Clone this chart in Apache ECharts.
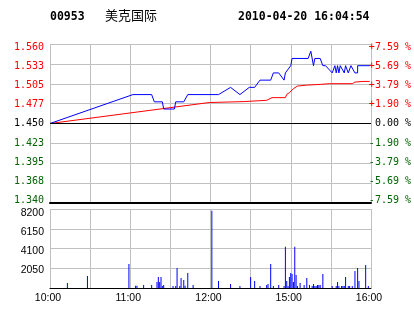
<!DOCTYPE html>
<html><head><meta charset="utf-8">
<script src="https://cdn.jsdelivr.net/npm/echarts@6/dist/echarts.min.js"></script>
<style>html,body{margin:0;padding:0;background:#fff}#c{width:414px;height:314px}</style>
</head><body><div id="c"></div>
<script>
// ---- data ----
const stockCode = '00953';
const stockName = '美克国际';
const stamp = '2010-04-20 16:04:54';
const prevClose = 1.45;
const priceStep = 0.0275; // one grid row
const priceTicks = ['1.340','1.368','1.395','1.423','1.450','1.477','1.505','1.533','1.560'];
const pctTicks = ['-7.59 %','-5.69 %','-3.79 %','-1.90 %',' 0.00 %','+1.90 %','+3.79 %','+5.69 %','+7.59 %'];
const volTicks = ['', '2050', '4100', '6150', '8200'];
const timeTicks = ['10:00', '11:00', '12:00', '15:00', '16:00'];

const priceTimes = ['10:00','11:02','11:16','11:18','11:24','11:25','11:33','11:34','11:40','11:43',
  '12:06','12:15','12:22','12:29','14:33','14:37','14:45','14:47','14:51','14:55','14:56','15:00','15:01',
  '15:13','15:15','15:16','15:17','15:18','15:22','15:24','15:26','15:31','15:33','15:34','15:35','15:36',
  '15:37','15:38','15:40','15:41','15:43','15:45','15:46','15:48','15:50','15:50','15:59'];
const priceValues = [1.45,1.49,1.49,1.48,1.48,1.47,1.47,1.48,1.48,1.49,
  1.49,1.50,1.49,1.50,1.50,1.51,1.51,1.52,1.52,1.51,1.52,1.53,1.54,
  1.54,1.55,1.55,1.53,1.54,1.54,1.53,1.53,1.52,1.53,1.52,1.53,1.52,
  1.53,1.53,1.52,1.53,1.52,1.53,1.53,1.52,1.52,1.53,1.53];

const avgTimes = ['10:00','11:59','12:00','12:25','12:26','14:42','14:46','14:56','14:57','14:59','15:02',
  '15:03','15:05','15:12','15:22','15:29','15:46','15:48','15:54','15:59'];
const avgValues = [1.4500,1.4790,1.4803,1.4803,1.4821,1.4821,1.4858,1.4858,1.4903,1.4927,1.4982,
  1.5004,1.5018,1.5031,1.5041,1.5051,1.5051,1.5073,1.5082,1.5082];

const volTimes = ['10:13','10:28','10:59','11:04','11:05','11:10','11:16','11:20','11:21','11:22','11:23',
  '11:24','11:25','11:32','11:34','11:35','11:37','11:38','11:40','11:41','11:43','11:47',
  '12:01','12:06','12:15','12:22','14:30','14:33','14:37','14:42','14:43','14:45','14:47','14:51',
  '14:55','14:56','14:57','14:58','14:59','15:00','15:01','15:02','15:03','15:04','15:05','15:07',
  '15:10','15:12','15:14','15:16','15:17','15:18','15:19','15:20','15:21','15:22','15:24','15:31',
  '15:34','15:35','15:36','15:38','15:39','15:40','15:41','15:43','15:44','15:46','15:48','15:50',
  '15:51','15:56','15:58'];
const volValues = [520,1250,2500,240,240,310,310,620,1150,620,1150,
  210,310,210,210,2080,210,1040,830,240,1560,310,
  8020,730,420,210,1150,730,210,310,420,2500,210,310,
  210,4270,730,210,1150,1560,1460,620,4270,1350,210,520,
  310,1040,310,210,420,210,210,310,310,310,1460,210,
  210,620,210,210,210,210,1150,210,210,210,1770,2080,
  730,2400,210];

// ---- helpers ----
function idx(t){
  const p = t.split(':').map(Number);
  const m = p[0]*60 + p[1];
  return m <= 12*60+30 ? m - 600 : 150 + (m - (14*60+30));
}
const timeLabelMap = {};
timeTicks.forEach(t => { timeLabelMap[idx(t)] = t; });
const RED = '#ff0000', GREEN = '#006400', GRID = '#c0c0c0';
function signColor(v){ v = Number(v); return v > 0 ? RED : (v < 0 ? GREEN : '#000'); }

const priceData = priceTimes.map((t,i) => [idx(t), (priceValues[i]-prevClose)/priceStep]);
const avgData = avgTimes.map((t,i) => [idx(t), (avgValues[i]-prevClose)/priceStep]);
const volData = volTimes.map((t,i) => [idx(t), volValues[i]]);

const mono = 'DejaVu Sans Mono';
const sans = 'Liberation Sans';

const chart = echarts.init(document.getElementById('c'), null, {renderer:'canvas'});
chart.setOption({
  animation: false,
  backgroundColor: '#fff',
  title: [
    {text: stockCode, left: 50, top: 11, padding: 0,
      textStyle: {fontFamily: mono, fontWeight: 'bold', fontSize: 11.5, color: '#000'}},
    {text: stockName, left: 105, top: 9, padding: 0,
      textStyle: {fontFamily: 'Noto Sans CJK SC', fontWeight: 'normal', fontSize: 13, color: '#000'}},
    {text: stamp, left: 238, top: 11, padding: 0,
      textStyle: {fontFamily: mono, fontWeight: 'bold', fontSize: 11.5, color: '#000'}}
  ],
  grid: [
    {left: 50, top: 44, width: 321, height: 159},
    {left: 50, top: 209, width: 321, height: 79},
    {left: 50, top: 47.5, width: 321, height: 152.8},
    {left: 50, top: 213.3, width: 321, height: 75.7}
  ],
  xAxis: [
    {gridIndex: 0, type: 'value', min: 0, max: 240, interval: 30,
      axisLine: {show: true, onZero: false, lineStyle: {color: '#000', width: 2}},
      axisTick: {show: false}, axisLabel: {show: false},
      splitLine: {show: true, lineStyle: {color: GRID, width: 1}}},
    {gridIndex: 1, type: 'value', min: 0, max: 240, interval: 30,
      axisLine: {show: true, onZero: false, lineStyle: {color: '#000', width: 1}},
      axisTick: {show: false},
      axisLabel: {show: true, margin: 5, color: '#000', fontFamily: sans, fontSize: 10.5,
        padding: [0, 4, 0, 0],
        formatter: v => timeLabelMap[v] || ''},
      splitLine: {show: true, lineStyle: {color: GRID, width: 1}}},
    {gridIndex: 2, type: 'value', min: 0, max: 1, show: false},
    {gridIndex: 3, type: 'value', min: 0, max: 1, show: false}
  ],
  yAxis: [
    {gridIndex: 0, type: 'value', min: -4, max: 4, interval: 1,
      axisLine: {show: false}, axisTick: {show: false}, axisLabel: {show: false},
      splitLine: {show: true, lineStyle: {color: GRID, width: 1}}},
    {gridIndex: 2, type: 'value', position: 'left', min: -4, max: 4, interval: 1,
      axisLine: {show: false}, axisTick: {show: false}, splitLine: {show: false},
      axisLabel: {margin: 6, fontFamily: mono, fontSize: 10,
        color: v => signColor(v), formatter: v => priceTicks[v + 4]}},
    {gridIndex: 2, type: 'value', position: 'right', min: -4, max: 4, interval: 1,
      axisLine: {show: false}, axisTick: {show: false}, splitLine: {show: false},
      axisLabel: {margin: 1, fontFamily: mono, fontSize: 10,
        color: v => signColor(v), formatter: v => pctTicks[v + 4]}},
    {gridIndex: 1, type: 'value', min: 0, max: 8200, interval: 2050,
      axisLine: {show: false}, axisTick: {show: false}, axisLabel: {show: false},
      splitLine: {show: true, lineStyle: {color: GRID, width: 1}}},
    {gridIndex: 3, type: 'value', position: 'left', min: 0, max: 4, interval: 1,
      axisLine: {show: false}, axisTick: {show: false}, splitLine: {show: false},
      axisLabel: {margin: 6, fontFamily: sans, fontSize: 10.5, color: '#000',
        formatter: v => volTicks[v]}}
  ],
  series: [
    {type: 'line', xAxisIndex: 0, yAxisIndex: 0, data: avgData, showSymbol: false, symbol: 'none',
      lineStyle: {color: RED, width: 1}, z: 3,
      markLine: {silent: true, symbol: 'none', label: {show: false},
        lineStyle: {color: '#000', width: 1, type: 'solid'}, data: [{yAxis: 0}]}},
    {type: 'line', xAxisIndex: 0, yAxisIndex: 0, data: priceData, showSymbol: false, symbol: 'none',
      lineStyle: {color: '#0000ff', width: 1}, z: 4},
    {type: 'bar', xAxisIndex: 1, yAxisIndex: 3, data: volData, barWidth: 1,
      itemStyle: {color: '#0000ff'}}
  ]
});
</script></body></html>
